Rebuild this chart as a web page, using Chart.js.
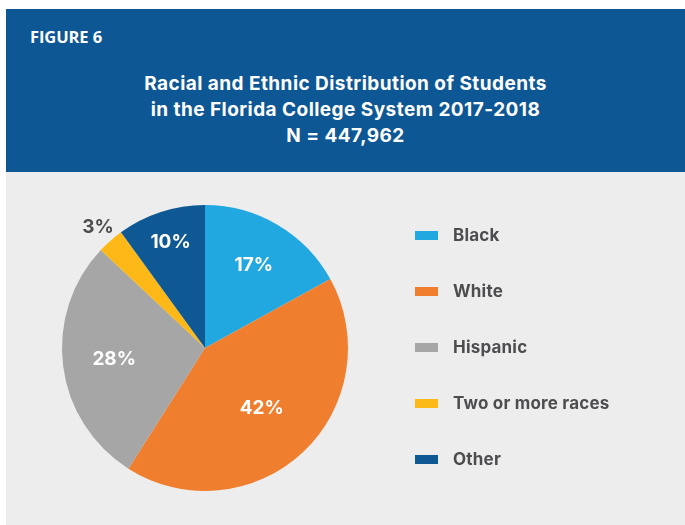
<!DOCTYPE html>
<html>
<head>
<meta charset="utf-8">
<script src="https://cdn.jsdelivr.net/npm/chart.js@4/dist/chart.umd.min.js"></script>
<style>
  html, body { margin: 0; padding: 0; background: #ffffff; }
  body { width: 685px; height: 525px; position: relative; overflow: hidden; font-family: Inter, "Open Sans", sans-serif; }
  #header { position: absolute; left: 6px; top: 9px; width: 679px; height: 163px; background: #0e5795; color: #ffffff; }
  #fig { position: absolute; left: 24px; top: 16px; font-family: "Open Sans", sans-serif; font-size: 16.5px; font-weight: 700; letter-spacing: -0.1px; }
  #title { position: absolute; left: 0; top: 62px; width: 100%; text-align: center; font-size: 19px; font-weight: 700; line-height: 26px; letter-spacing: 0.45px; }
  #body { position: absolute; left: 6px; top: 172px; width: 679px; height: 353px; background: #ededed; }
  #legend { position: absolute; left: 409px; top: 35px; margin: 0; padding: 0; list-style: none; }
  #legend li { height: 56px; display: flex; align-items: center; font-size: 17px; font-weight: 700; color: #4d4d4f; letter-spacing: 0.2px; }
  #legend span.box { display: inline-block; width: 23px; height: 9px; margin-right: 15px; }
</style>
</head>
<body>
<div id="header">
  <div id="fig">FIGURE 6</div>
  <div id="title">Racial and Ethnic Distribution of Students<br>in the Florida College System 2017-2018<br>N = 447,962</div>
</div>
<div id="body">
  <canvas id="graficoTorta" width="679" height="353"></canvas>
  <ul id="legend"></ul>
</div>
<script>
// dati del grafico
const categories = ['Black', 'White', 'Hispanic', 'Two or more races', 'Other'];
const percentages = [17, 42, 28, 3, 10];
const sliceColors = ['#22a8e0', '#ef7f2e', '#a6a6a6', '#fbb817', '#0e5894'];

// etichette percentuali sulle fette
const sliceLabels = {
  id: 'sliceLabels',
  afterDatasetsDraw(chart, args, opts) {
    const ctx = chart.ctx;
    const meta = chart.getDatasetMeta(0);
    ctx.save();
    ctx.font = '700 19px Inter';
    ctx.textAlign = 'center';
    ctx.textBaseline = 'middle';
    meta.data.forEach((arc, i) => {
      const p = arc.getProps(['x', 'y', 'startAngle', 'endAngle', 'outerRadius'], true);
      const mid = (p.startAngle + p.endAngle) / 2;
      const r = p.outerRadius * opts.radius[i];
      ctx.fillStyle = opts.radius[i] > 1 ? '#4d4d4f' : '#ffffff';
      ctx.fillText(chart.data.datasets[0].data[i] + '%', p.x + Math.cos(mid) * r, p.y + Math.sin(mid) * r);
    });
    ctx.restore();
  }
};

// legenda html costruita dagli elementi del grafico
const htmlLegend = {
  id: 'htmlLegend',
  afterUpdate(chart) {
    const ul = document.getElementById('legend');
    ul.innerHTML = '';
    chart.options.plugins.legend.labels.generateLabels(chart).forEach(item => {
      const li = document.createElement('li');
      li.innerHTML = `<span class="box" style="background:${item.fillStyle}"></span>${item.text}`;
      ul.appendChild(li);
    });
  }
};

var ctx = document.getElementById('graficoTorta').getContext('2d');
var graficoTorta = new Chart(ctx, {
  type: 'pie',
  data: {
    labels: categories,
    datasets: [{
      data: percentages,
      backgroundColor: sliceColors,
      borderWidth: 0
    }]
  },
  options: {
    responsive: false,
    animation: false,
    layout: { padding: { left: 56, right: 337, top: 33, bottom: 34 } },
    plugins: {
      legend: { display: false },
      tooltip: { enabled: false },
      sliceLabels: { radius: [0.67, 0.58, 0.64, 1.13, 0.78] }
    }
  },
  plugins: [sliceLabels, htmlLegend]
});
</script>
</body>
</html>
